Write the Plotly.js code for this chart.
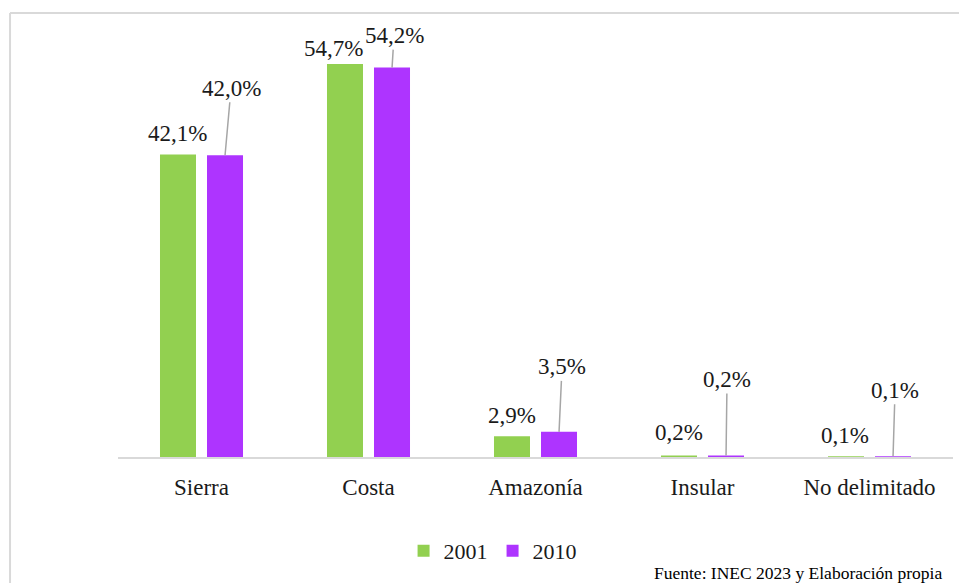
<!DOCTYPE html>
<html>
<head>
<meta charset="utf-8">
<script src="https://cdn.plot.ly/plotly-3.0.1.min.js"></script>
<style>html,body{margin:0;padding:0;background:#fff;}#chart{width:959px;height:583px;}</style>
</head>
<body>
<div id="chart"></div>
<script>
const categories = ["Sierra", "Costa", "Amazonía", "Insular", "No delimitado"];
const years = ["2001", "2010"];
const values2001 = [42.1, 54.7, 2.9, 0.2, 0.1];
const values2010 = [42.0, 54.2, 3.5, 0.2, 0.1];
const labels2001 = ["42,1%", "54,7%", "2,9%", "0,2%", "0,1%"];
const labels2010 = ["42,0%", "54,2%", "3,5%", "0,2%", "0,1%"];
const sourceText = "Fuente: INEC 2023 y Elaboración propia";

const colors = ["#92D050", "#AE34FF"];
const font = "Liberation Serif";
const txtColor = "#1a1a1a";

const traces = [
  {type: "bar", name: years[0], x: categories, y: values2001, marker: {color: colors[0]}, hoverinfo: "none"},
  {type: "bar", name: years[1], x: categories, y: values2010, marker: {color: colors[1]}, hoverinfo: "none"}
];

const off = 0.141;
const l1 = [{xs: 0, ys: 21}, {xs: -11, ys: 16}, {xs: 0, ys: 21}, {xs: 0, ys: 23}, {xs: -1, ys: 21}];
const l2 = [{ax: 6, ay: -67}, {ax: 2, ay: -32}, {ax: 3, ay: -65}, {ax: 1, ay: -76}, {ax: 2, ay: -66}];

const annotations = [];
categories.forEach((c, i) => {
  annotations.push({
    xref: "x", yref: "y", x: i - off, y: values2001[i], text: labels2001[i],
    showarrow: false, xanchor: "center", yanchor: "middle",
    xshift: l1[i].xs, yshift: l1[i].ys,
    font: {family: font, size: 23, color: txtColor}
  });
  annotations.push({
    xref: "x", yref: "y", x: i + off, y: values2010[i], text: labels2010[i],
    showarrow: true, arrowhead: 0, arrowwidth: 1.5, arrowcolor: "#A6A6A6",
    ax: l2[i].ax, ay: l2[i].ay, standoff: 0, startstandoff: 0,
    font: {family: font, size: 23, color: txtColor}
  });
});
annotations.push({
  xref: "paper", yref: "paper", x: 0.64, y: -0.277, xanchor: "left", yanchor: "middle",
  text: sourceText, showarrow: false, font: {family: font, size: 17.5, color: "#000"}
});

const layout = {
  width: 959, height: 583,
  margin: {l: 118, r: 6, t: 40, b: 126},
  paper_bgcolor: "#fff", plot_bgcolor: "#fff",
  barmode: "group", bargap: 0.437, bargroupgap: 0.234,
  showlegend: true,
  legend: {orientation: "h", x: 0.342, xanchor: "left", y: -0.225, yanchor: "middle",
           font: {family: font, size: 22, color: txtColor}, itemwidth: 30, tracegroupgap: 0},
  xaxis: {showline: true, linecolor: "#D9D9D9", linewidth: 2, ticks: "", showgrid: false,
          tickfont: {family: font, size: 23, color: txtColor}, ticklabelstandoff: 8, fixedrange: true},
  yaxis: {range: [0, 58.04], showgrid: false, zeroline: false, showticklabels: false, showline: false, fixedrange: true},
  annotations: annotations,
  shapes: [
    {type: "line", xref: "paper", yref: "paper", x0: -0.1293, x1: -0.1293, y0: 1.0647, y1: -0.31, line: {color: "#D9D9D9", width: 2}},
    {type: "line", xref: "paper", yref: "paper", x0: -0.1293, x1: 1.01, y0: 1.0647, y1: 1.0647, line: {color: "#D9D9D9", width: 2}}
  ]
};

Plotly.newPlot("chart", traces, layout, {displayModeBar: false, staticPlot: true});
</script>
</body>
</html>
